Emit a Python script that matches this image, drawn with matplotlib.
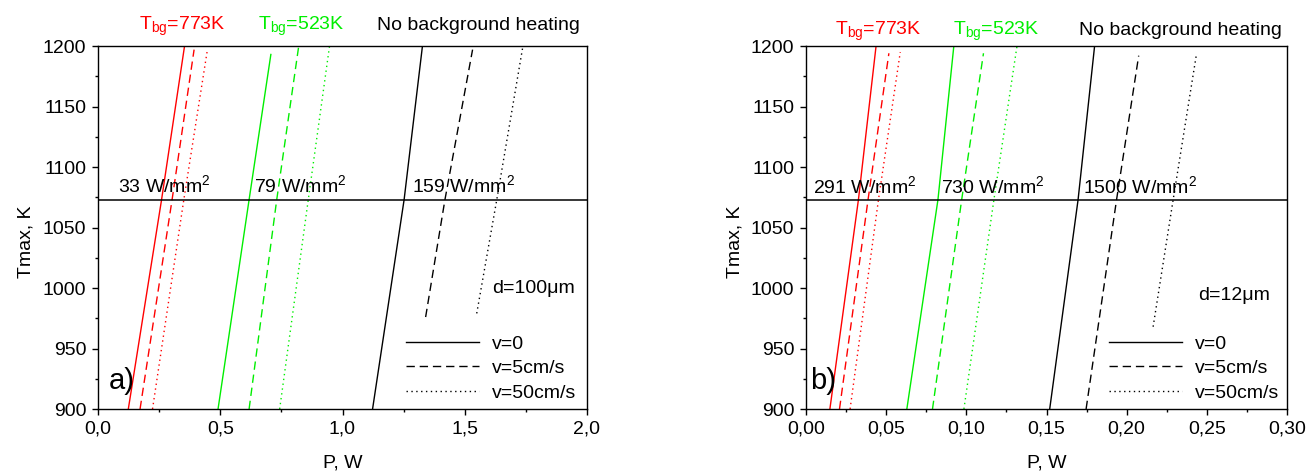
import matplotlib
matplotlib.use('Agg')
import matplotlib.pyplot as plt
from matplotlib.ticker import MultipleLocator, FuncFormatter

plt.rcParams['font.family'] = ['Liberation Sans', 'DejaVu Sans']
plt.rcParams['mathtext.fontset'] = 'custom'
plt.rcParams['mathtext.rm'] = 'Liberation Sans'
plt.rcParams['mathtext.it'] = 'Liberation Sans:italic'
plt.rcParams['mathtext.bf'] = 'Liberation Sans:bold'

# ---------------- data ----------------
T_threshold = 1073

# panel a) d = 100 um
a_T_red_v0 = [900, 1073, 1200];   a_P_red_v0 = [0.124, 0.260, 0.354]
a_T_red_v5 = [900, 1073, 1197];   a_P_red_v5 = [0.172, 0.303, 0.393]
a_T_red_v50 = [900, 1073, 1195];  a_P_red_v50 = [0.223, 0.351, 0.446]
a_T_grn_v0 = [900, 1073, 1193];   a_P_grn_v0 = [0.491, 0.618, 0.707]
a_T_grn_v5 = [900, 1073, 1200];   a_P_grn_v5 = [0.618, 0.731, 0.821]
a_T_grn_v50 = [900, 1073, 1200];  a_P_grn_v50 = [0.743, 0.860, 0.947]
a_T_blk_v0 = [900, 1073, 1200];   a_P_blk_v0 = [1.123, 1.252, 1.327]
a_T_blk_v5 = [976, 1073, 1197];   a_P_blk_v5 = [1.340, 1.419, 1.532]
a_T_blk_v50 = [979, 1073, 1200];  a_P_blk_v50 = [1.549, 1.631, 1.738]

# panel b) d = 12 um
b_T_red_v0 = [900, 1073, 1200];   b_P_red_v0 = [0.0149, 0.0327, 0.0437]
b_T_red_v5 = [900, 1073, 1194];   b_P_red_v5 = [0.0209, 0.0387, 0.0517]
b_T_red_v50 = [900, 1073, 1195];  b_P_red_v50 = [0.0275, 0.0452, 0.0588]
b_T_grn_v0 = [900, 1073, 1200];   b_P_grn_v0 = [0.0629, 0.0823, 0.0922]
b_T_grn_v5 = [900, 1073, 1194];   b_P_grn_v5 = [0.0789, 0.0971, 0.1107]
b_T_grn_v50 = [900, 1073, 1200];  b_P_grn_v50 = [0.0985, 0.1172, 0.1316]
b_T_blk_v0 = [900, 1073, 1200];   b_P_blk_v0 = [0.152, 0.1697, 0.180]
b_T_blk_v5 = [900, 1073, 1192];   b_P_blk_v5 = [0.1747, 0.1937, 0.2075]
b_T_blk_v50 = [968, 1073, 1193];  b_P_blk_v50 = [0.2165, 0.229, 0.2435]

legend_labels = ['v=0', 'v=5cm/s', 'v=50cm/s']
a_flux_labels = ['33 W/mm$^2$', '79 W/mm$^2$', '159 W/mm$^2$']
b_flux_labels = ['291 W/mm$^2$', '730 W/mm$^2$', '1500 W/mm$^2$']
bg_labels = ['T$_{\\mathrm{bg}}$=773K', 'T$_{\\mathrm{bg}}$=523K', 'No background heating']
panel_labels = ['a)', 'b)']
size_labels = ['d=100\u03bcm', 'd=12\u03bcm']

# ---------------- style ----------------
RED = '#ff0000'
GRN = '#00ee00'
BLK = '#000000'
styles = ['-', (0, (6, 3.5)), (0, (1, 2.5))]
FS = 14
W, H = 1308, 473

fig = plt.figure(figsize=(W / 100, H / 100), dpi=100)

def ax_rect(x0, x1, y0=46, y1=409):
    return [x0 / W, 1 - y1 / H, (x1 - x0) / W, (y1 - y0) / H]

axa = fig.add_axes(ax_rect(98, 587))
axb = fig.add_axes(ax_rect(806, 1287))

panels = [
    (axa, [(a_P_red_v0, a_T_red_v0, a_P_red_v5, a_T_red_v5, a_P_red_v50, a_T_red_v50, RED),
           (a_P_grn_v0, a_T_grn_v0, a_P_grn_v5, a_T_grn_v5, a_P_grn_v50, a_T_grn_v50, GRN),
           (a_P_blk_v0, a_T_blk_v0, a_P_blk_v5, a_T_blk_v5, a_P_blk_v50, a_T_blk_v50, BLK)]),
    (axb, [(b_P_red_v0, b_T_red_v0, b_P_red_v5, b_T_red_v5, b_P_red_v50, b_T_red_v50, RED),
           (b_P_grn_v0, b_T_grn_v0, b_P_grn_v5, b_T_grn_v5, b_P_grn_v50, b_T_grn_v50, GRN),
           (b_P_blk_v0, b_T_blk_v0, b_P_blk_v5, b_T_blk_v5, b_P_blk_v50, b_T_blk_v50, BLK)]),
]

for ax, groups in panels:
    blk_handles = []
    for g in groups:
        col = g[6]
        for k in range(3):
            ln, = ax.plot(g[2 * k], g[2 * k + 1], color=col, lw=1.0, ls=styles[k])
            if col == BLK:
                blk_handles.append(ln)
    ax.axhline(T_threshold, color='k', lw=1.1)
    ax.set_ylim(900, 1200)
    ax.yaxis.set_major_locator(MultipleLocator(50))
    ax.yaxis.set_minor_locator(MultipleLocator(25))
    ax.tick_params(which='both', direction='out', top=False, right=False,
                   labelsize=FS, width=1.0)
    ax.tick_params(which='major', length=4.5, pad=4)
    ax.tick_params(which='minor', length=2.5)
    for s in ax.spines.values():
        s.set_linewidth(1.0)
    ax.set_xlabel('P, W', fontsize=FS)
    ax.set_ylabel('Tmax, K', fontsize=FS)
    ax.xaxis.set_label_coords(0.5, -0.125)
    ax.yaxis.set_label_coords(-0.13, 0.46)
    ax.legend(handles=blk_handles, labels=legend_labels, loc='upper left',
              bbox_to_anchor=(0.63, 0.204), borderaxespad=0, borderpad=0,
              frameon=False, fontsize=FS, handlelength=3.76, handletextpad=0.67,
              labelspacing=0.36)

axa.set_xlim(0, 2.0)
axa.xaxis.set_major_locator(MultipleLocator(0.5))
axa.xaxis.set_minor_locator(MultipleLocator(0.25))
axa.xaxis.set_major_formatter(FuncFormatter(lambda v, p: f'{v:.1f}'.replace('.', ',')))

axb.set_xlim(0, 0.30)
axb.xaxis.set_major_locator(MultipleLocator(0.05))
axb.xaxis.set_minor_locator(MultipleLocator(0.025))
axb.xaxis.set_major_formatter(FuncFormatter(lambda v, p: f'{v:.2f}'.replace('.', ',')))

def fx(px, x0, x1):
    return (px - x0) / (x1 - x0)

def fy(py):
    return (409 - py) / (409 - 46)

# flux annotations
for px, lab in zip([118, 254, 412], a_flux_labels):
    axa.text(fx(px, 98, 587), fy(192), lab, transform=axa.transAxes,
             fontsize=FS, ha='left', va='baseline')
for px, lab in zip([813, 941, 1083], b_flux_labels):
    axb.text(fx(px, 806, 1287), fy(193), lab, transform=axb.transAxes,
             fontsize=FS, ha='left', va='baseline')

axa.text(fx(492, 98, 587), fy(288), size_labels[0], transform=axa.transAxes,
         fontsize=FS, ha='left', va='center')
axb.text(fx(1198, 806, 1287), fy(295), size_labels[1], transform=axb.transAxes,
         fontsize=FS, ha='left', va='center')

axa.text(fx(109, 98, 587), fy(381), panel_labels[0], transform=axa.transAxes,
         fontsize=21, ha='left', va='center')
axb.text(fx(810, 806, 1287), fy(381), panel_labels[1], transform=axb.transAxes,
         fontsize=21, ha='left', va='center')

# top headers
for xs, base in [([139, 258, 377], 30), ([835, 953, 1079], 35)]:
    for px, lab, col in zip(xs, bg_labels, [RED, GRN, BLK]):
        fig.text(px / W, 1 - base / H, lab, color=col, fontsize=FS,
                 ha='left', va='baseline')

fig.savefig('out.png', dpi=100)
